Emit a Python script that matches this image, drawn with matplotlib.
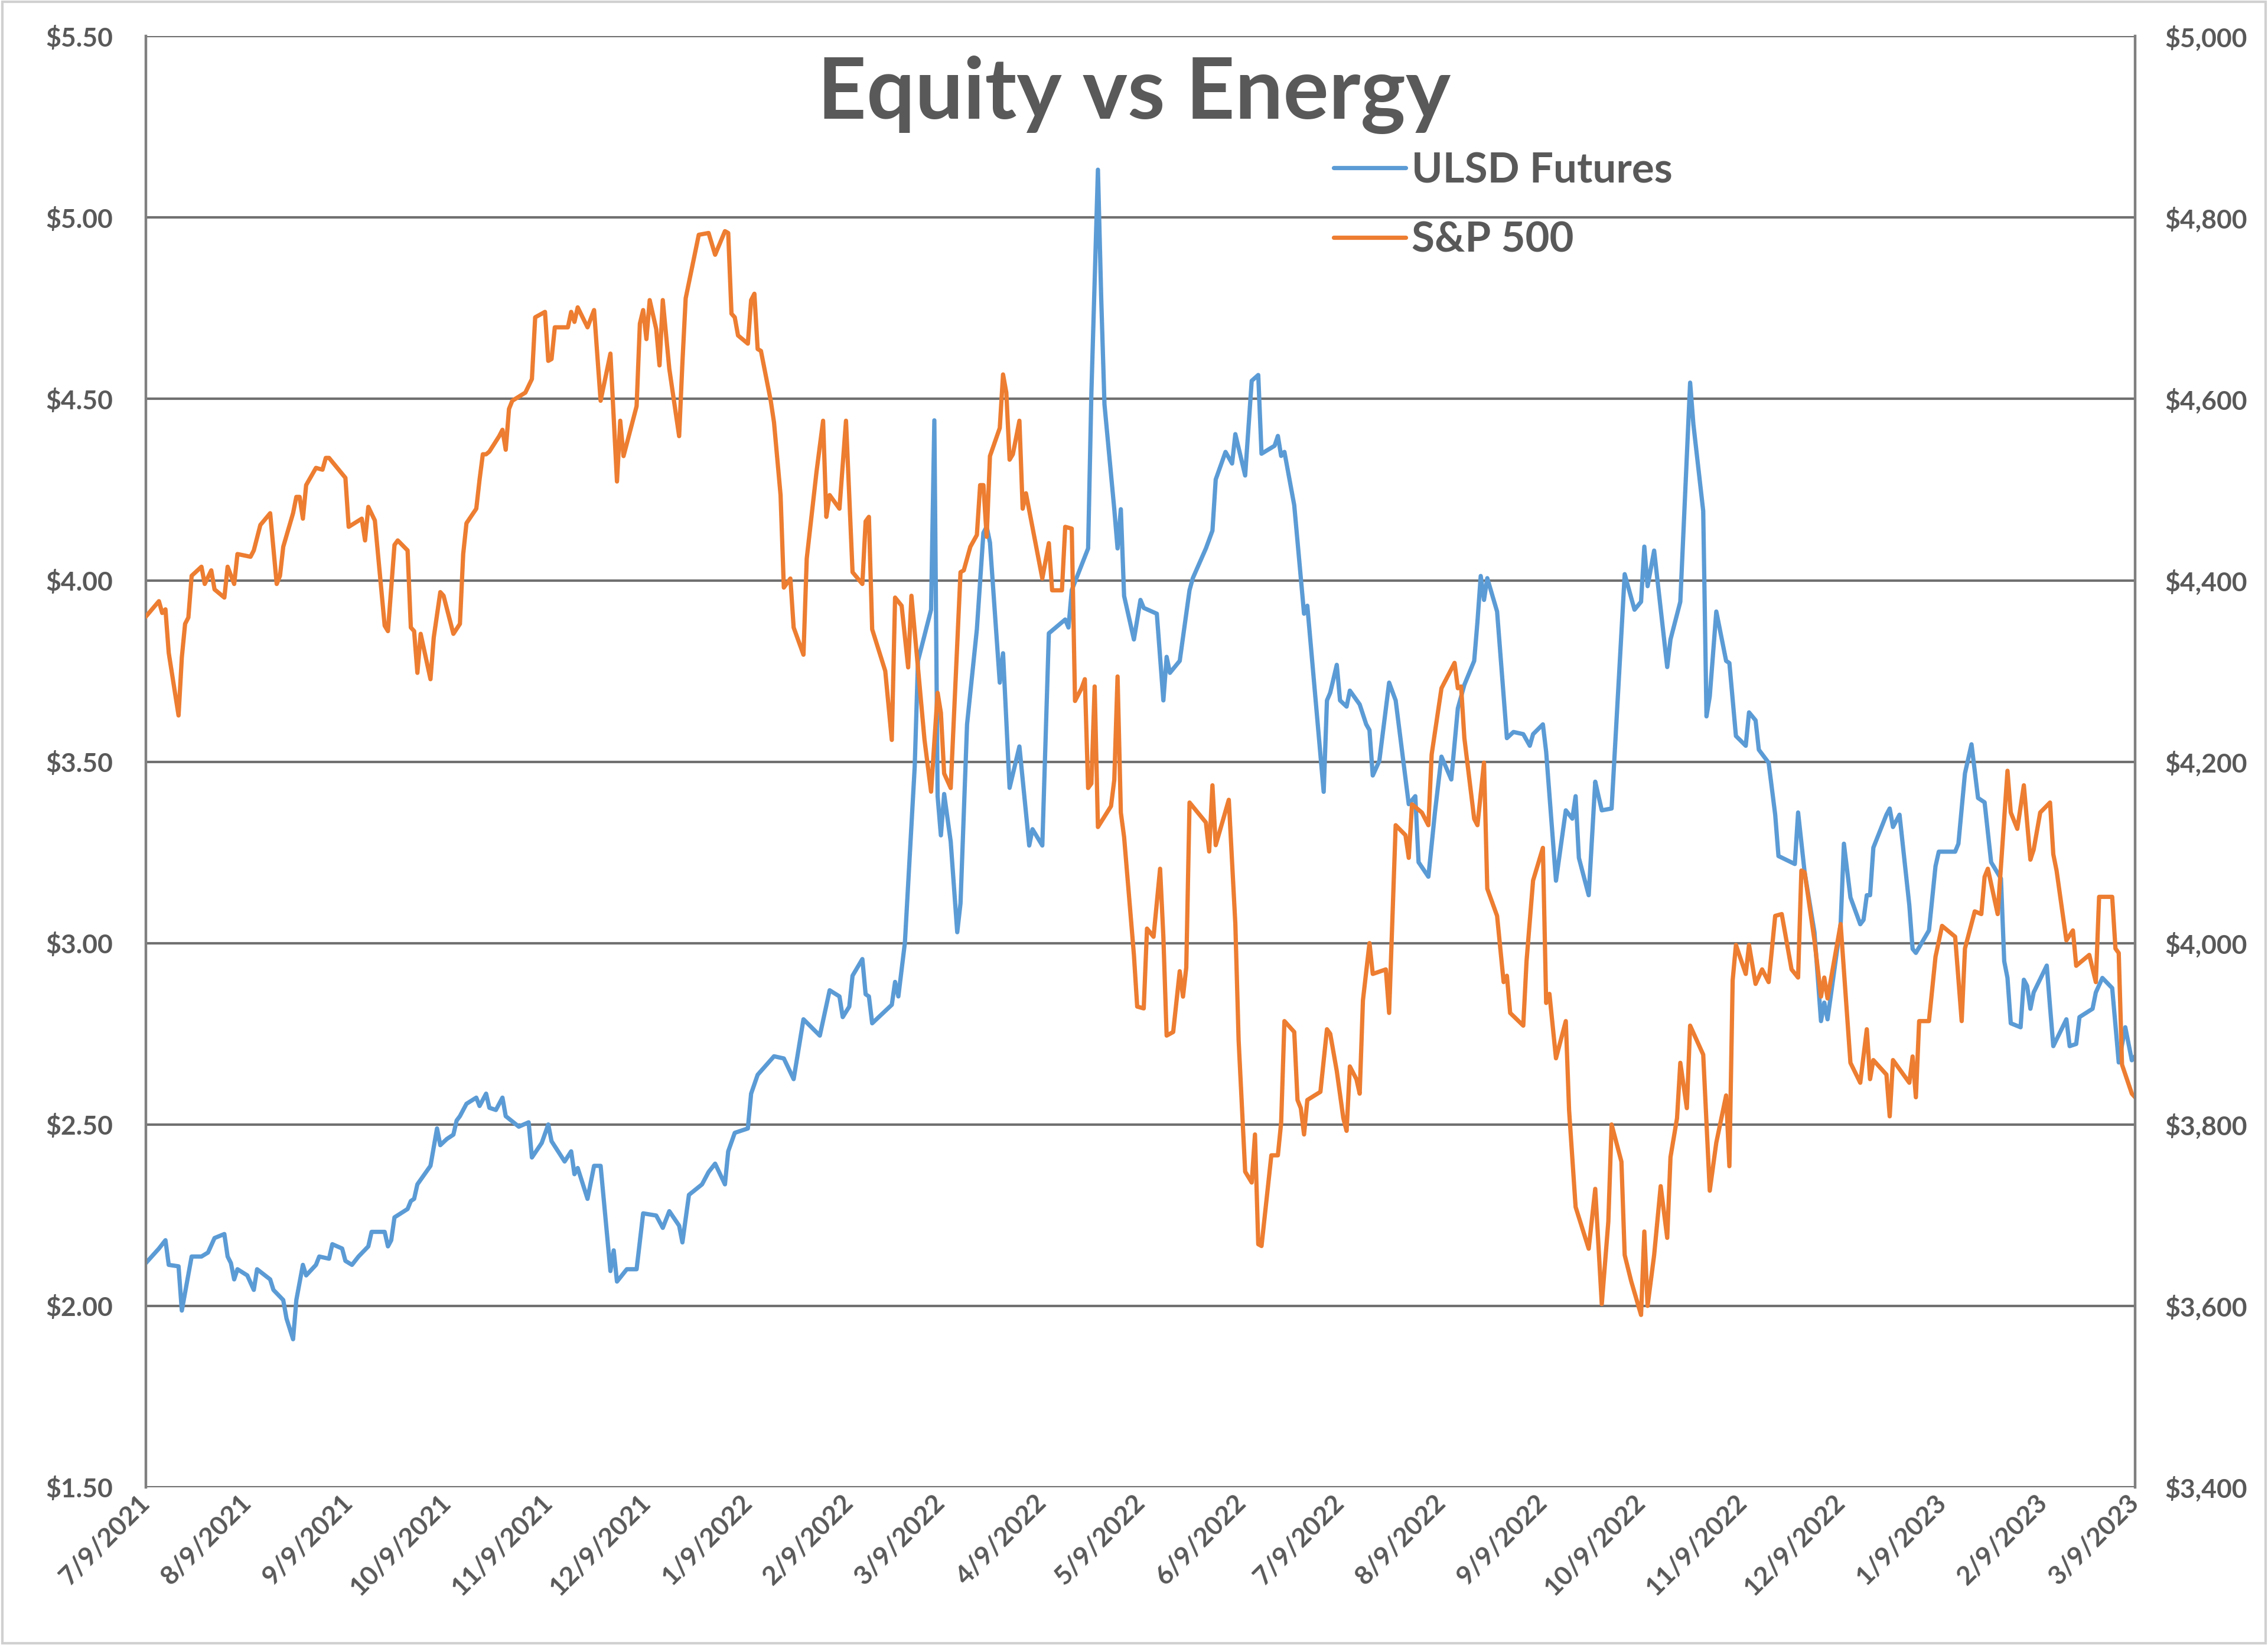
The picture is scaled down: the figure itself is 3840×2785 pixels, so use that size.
import matplotlib
matplotlib.use('Agg')
import matplotlib.pyplot as plt
import matplotlib.ticker as mticker
from matplotlib.patches import Rectangle
import pandas as pd

plt.rcParams['font.family'] = ['Lato', 'DejaVu Sans']

# S&P 500 (right axis)
sp_dates = [
    '2021-07-09', '2021-07-13', '2021-07-14', '2021-07-15', '2021-07-16', '2021-07-19', '2021-07-20', '2021-07-21',
    '2021-07-22', '2021-07-23', '2021-07-26', '2021-07-27', '2021-07-29', '2021-07-30', '2021-08-02', '2021-08-03',
    '2021-08-05', '2021-08-06', '2021-08-10', '2021-08-11', '2021-08-13', '2021-08-16', '2021-08-18', '2021-08-19',
    '2021-08-20', '2021-08-23', '2021-08-24', '2021-08-25', '2021-08-26', '2021-08-27', '2021-08-30', '2021-09-01',
    '2021-09-02', '2021-09-03', '2021-09-08', '2021-09-09', '2021-09-13', '2021-09-14', '2021-09-15', '2021-09-17',
    '2021-09-20', '2021-09-21', '2021-09-23', '2021-09-24', '2021-09-27', '2021-09-28', '2021-09-29', '2021-09-30',
    '2021-10-01', '2021-10-04', '2021-10-05', '2021-10-07', '2021-10-08', '2021-10-11', '2021-10-13', '2021-10-14',
    '2021-10-15', '2021-10-18', '2021-10-19', '2021-10-20', '2021-10-21', '2021-10-22', '2021-10-25', '2021-10-26',
    '2021-10-27', '2021-10-28', '2021-10-29', '2021-11-02', '2021-11-04', '2021-11-05', '2021-11-08', '2021-11-09',
    '2021-11-10', '2021-11-11', '2021-11-15', '2021-11-16', '2021-11-17', '2021-11-18', '2021-11-21', '2021-11-23',
    '2021-11-25', '2021-11-28', '2021-11-30', '2021-12-01', '2021-12-02', '2021-12-06', '2021-12-07', '2021-12-08',
    '2021-12-09', '2021-12-10', '2021-12-12', '2021-12-13', '2021-12-14', '2021-12-16', '2021-12-19', '2021-12-20',
    '2021-12-21', '2021-12-25', '2021-12-28', '2021-12-30', '2022-01-02', '2022-01-03', '2022-01-04', '2022-01-05',
    '2022-01-06', '2022-01-09', '2022-01-10', '2022-01-11', '2022-01-12', '2022-01-13', '2022-01-16', '2022-01-17',
    '2022-01-19', '2022-01-20', '2022-01-22', '2022-01-23', '2022-01-26', '2022-01-27', '2022-01-30', '2022-02-01',
    '2022-02-02', '2022-02-03', '2022-02-06', '2022-02-08', '2022-02-10', '2022-02-13', '2022-02-14', '2022-02-15',
    '2022-02-16', '2022-02-20', '2022-02-22', '2022-02-23', '2022-02-25', '2022-02-27', '2022-02-28', '2022-03-04',
    '2022-03-06', '2022-03-08', '2022-03-09', '2022-03-10', '2022-03-12', '2022-03-15', '2022-03-16', '2022-03-18',
    '2022-03-20', '2022-03-21', '2022-03-22', '2022-03-23', '2022-03-24', '2022-03-27', '2022-03-28', '2022-03-29',
    '2022-03-30', '2022-03-31', '2022-04-02', '2022-04-03', '2022-04-04', '2022-04-09', '2022-04-11', '2022-04-12',
    '2022-04-15', '2022-04-16', '2022-04-18', '2022-04-19', '2022-04-21', '2022-04-22', '2022-04-23', '2022-04-24',
    '2022-04-25', '2022-04-26', '2022-04-30', '2022-05-01', '2022-05-02', '2022-05-03', '2022-05-04', '2022-05-07',
    '2022-05-08', '2022-05-10', '2022-05-11', '2022-05-13', '2022-05-15', '2022-05-16', '2022-05-17', '2022-05-19',
    '2022-05-21', '2022-05-22', '2022-05-23', '2022-05-24', '2022-05-29', '2022-05-30', '2022-05-31', '2022-06-01',
    '2022-06-05', '2022-06-07', '2022-06-08', '2022-06-10', '2022-06-12', '2022-06-13', '2022-06-14', '2022-06-15',
    '2022-06-18', '2022-06-20', '2022-06-21', '2022-06-22', '2022-06-25', '2022-06-26', '2022-06-27', '2022-06-28',
    '2022-06-29', '2022-07-03', '2022-07-05', '2022-07-06', '2022-07-08', '2022-07-10', '2022-07-11', '2022-07-12',
    '2022-07-14', '2022-07-15', '2022-07-16', '2022-07-18', '2022-07-19', '2022-07-23', '2022-07-24', '2022-07-25',
    '2022-07-26', '2022-07-29', '2022-07-30', '2022-07-31', '2022-08-03', '2022-08-05', '2022-08-06', '2022-08-09',
    '2022-08-13', '2022-08-14', '2022-08-15', '2022-08-16', '2022-08-19', '2022-08-20', '2022-08-22', '2022-08-23',
    '2022-08-26', '2022-08-28', '2022-08-29', '2022-08-30', '2022-09-03', '2022-09-04', '2022-09-06', '2022-09-09',
    '2022-09-10', '2022-09-11', '2022-09-13', '2022-09-16', '2022-09-17', '2022-09-19', '2022-09-23', '2022-09-25',
    '2022-09-27', '2022-09-29', '2022-09-30', '2022-10-03', '2022-10-04', '2022-10-06', '2022-10-09', '2022-10-10',
    '2022-10-11', '2022-10-13', '2022-10-15', '2022-10-17', '2022-10-18', '2022-10-20', '2022-10-21', '2022-10-23',
    '2022-10-24', '2022-10-28', '2022-10-30', '2022-11-01', '2022-11-04', '2022-11-05', '2022-11-06', '2022-11-07',
    '2022-11-10', '2022-11-11', '2022-11-13', '2022-11-15', '2022-11-17', '2022-11-19', '2022-11-21', '2022-11-24',
    '2022-11-26', '2022-11-27', '2022-11-28', '2022-12-01', '2022-12-03', '2022-12-04', '2022-12-05', '2022-12-09',
    '2022-12-12', '2022-12-15', '2022-12-17', '2022-12-18', '2022-12-19', '2022-12-23', '2022-12-24', '2022-12-25',
    '2022-12-30', '2022-12-31', '2023-01-01', '2023-01-02', '2023-01-05', '2023-01-07', '2023-01-09', '2023-01-13',
    '2023-01-15', '2023-01-16', '2023-01-19', '2023-01-21', '2023-01-22', '2023-01-23', '2023-01-26', '2023-01-29',
    '2023-01-30', '2023-02-01', '2023-02-03', '2023-02-05', '2023-02-06', '2023-02-08', '2023-02-11', '2023-02-12',
    '2023-02-13', '2023-02-16', '2023-02-18', '2023-02-19', '2023-02-23', '2023-02-25', '2023-02-26', '2023-03-02',
    '2023-03-03', '2023-03-04', '2023-03-05', '2023-03-08', '2023-03-09',
]
sp_values = [
    4360, 4377, 4364, 4368, 4320, 4251, 4315, 4352, 4359, 4405, 4415, 4396, 4411, 4390, 4381, 4415,
    4396, 4429, 4426, 4433, 4461, 4474, 4396, 4405, 4437, 4474, 4492, 4492, 4468, 4505, 4524, 4522,
    4535, 4535, 4513, 4459, 4468, 4444, 4481, 4466, 4350, 4344, 4439, 4444, 4433, 4348, 4344, 4298,
    4341, 4291, 4337, 4387, 4383, 4341, 4352, 4429, 4463, 4479, 4511, 4539, 4539, 4542, 4559, 4566,
    4544, 4589, 4598, 4607, 4622, 4690, 4696, 4642, 4644, 4679, 4679, 4696, 4685, 4701, 4679, 4698,
    4598, 4650, 4509, 4576, 4537, 4592, 4683, 4698, 4666, 4709, 4677, 4637, 4709, 4633, 4559, 4640,
    4711, 4781, 4783, 4759, 4785, 4783, 4694, 4690, 4670, 4661, 4709, 4716, 4655, 4653, 4598, 4574,
    4494, 4392, 4402, 4348, 4318, 4424, 4520, 4576, 4470, 4494, 4479, 4576, 4409, 4396, 4465, 4470,
    4346, 4300, 4224, 4381, 4372, 4304, 4383, 4224, 4167, 4276, 4254, 4187, 4171, 4409, 4411, 4437,
    4450, 4505, 4505, 4448, 4537, 4568, 4627, 4607, 4533, 4539, 4576, 4479, 4496, 4402, 4441, 4389,
    4389, 4459, 4457, 4267, 4281, 4291, 4171, 4176, 4283, 4128, 4151, 4180, 4294, 4144, 4117, 3987,
    3930, 3928, 4016, 4007, 4082, 4007, 3898, 3902, 3969, 3941, 3973, 4155, 4133, 4101, 4174, 4108,
    4158, 4021, 3893, 3748, 3736, 3789, 3668, 3666, 3766, 3766, 3802, 3914, 3902, 3827, 3818, 3789,
    3827, 3836, 3905, 3900, 3859, 3807, 3793, 3864, 3850, 3834, 3937, 4000, 3966, 3971, 3923, 4026,
    4130, 4119, 4094, 4153, 4144, 4130, 4208, 4281, 4309, 4281, 4283, 4226, 4137, 4130, 4199, 4060,
    4030, 3957, 3964, 3923, 3909, 3980, 4069, 4105, 3934, 3944, 3873, 3914, 3816, 3709, 3663, 3729,
    3602, 3693, 3800, 3759, 3656, 3627, 3590, 3682, 3600, 3656, 3732, 3675, 3764, 3807, 3868, 3818,
    3909, 3877, 3727, 3780, 3832, 3754, 3959, 3998, 3966, 3998, 3955, 3971, 3957, 4030, 4032, 3971,
    3962, 4080, 4078, 4003, 3941, 3962, 3939, 4021, 3868, 3846, 3905, 3850, 3871, 3855, 3809, 3871,
    3846, 3875, 3830, 3914, 3914, 3985, 4019, 4007, 3914, 3994, 4035, 4032, 4073, 4082, 4032, 4190,
    4144, 4126, 4174, 4092, 4103, 4144, 4155, 4098, 4080, 4003, 4014, 3975, 3987, 3957, 4051, 4051,
    3994, 3989, 3866, 3834, 3830,
]

# ULSD futures, $/gal (left axis)
ulsd_dates = [
    '2021-07-09', '2021-07-13', '2021-07-15', '2021-07-16', '2021-07-19', '2021-07-20', '2021-07-23', '2021-07-26',
    '2021-07-28', '2021-07-30', '2021-08-02', '2021-08-03', '2021-08-04', '2021-08-05', '2021-08-06', '2021-08-09',
    '2021-08-11', '2021-08-12', '2021-08-16', '2021-08-17', '2021-08-20', '2021-08-21', '2021-08-23', '2021-08-24',
    '2021-08-26', '2021-08-27', '2021-08-30', '2021-08-31', '2021-09-03', '2021-09-04', '2021-09-07', '2021-09-08',
    '2021-09-10', '2021-09-12', '2021-09-15', '2021-09-16', '2021-09-20', '2021-09-21', '2021-09-22', '2021-09-23',
    '2021-09-27', '2021-09-28', '2021-09-29', '2021-09-30', '2021-10-04', '2021-10-06', '2021-10-07', '2021-10-09',
    '2021-10-11', '2021-10-12', '2021-10-13', '2021-10-15', '2021-10-18', '2021-10-19', '2021-10-21', '2021-10-22',
    '2021-10-24', '2021-10-26', '2021-10-27', '2021-10-31', '2021-11-03', '2021-11-04', '2021-11-07', '2021-11-09',
    '2021-11-10', '2021-11-14', '2021-11-16', '2021-11-17', '2021-11-18', '2021-11-21', '2021-11-23', '2021-11-25',
    '2021-11-28', '2021-11-29', '2021-11-30', '2021-12-03', '2021-12-06', '2021-12-08', '2021-12-12', '2021-12-14',
    '2021-12-16', '2021-12-19', '2021-12-20', '2021-12-22', '2021-12-26', '2021-12-28', '2021-12-30', '2022-01-02',
    '2022-01-03', '2022-01-05', '2022-01-09', '2022-01-10', '2022-01-12', '2022-01-17', '2022-01-20', '2022-01-23',
    '2022-01-26', '2022-01-31', '2022-02-03', '2022-02-06', '2022-02-07', '2022-02-09', '2022-02-10', '2022-02-13',
    '2022-02-14', '2022-02-15', '2022-02-16', '2022-02-22', '2022-02-23', '2022-02-24', '2022-02-26', '2022-03-01',
    '2022-03-02', '2022-03-06', '2022-03-07', '2022-03-08', '2022-03-09', '2022-03-10', '2022-03-12', '2022-03-14',
    '2022-03-15', '2022-03-17', '2022-03-20', '2022-03-22', '2022-03-23', '2022-03-24', '2022-03-27', '2022-03-28',
    '2022-03-30', '2022-04-02', '2022-04-05', '2022-04-06', '2022-04-09', '2022-04-11', '2022-04-16', '2022-04-17',
    '2022-04-18', '2022-04-23', '2022-04-24', '2022-04-26', '2022-04-27', '2022-04-28', '2022-05-01', '2022-05-02',
    '2022-05-03', '2022-05-04', '2022-05-07', '2022-05-09', '2022-05-10', '2022-05-14', '2022-05-16', '2022-05-17',
    '2022-05-18', '2022-05-21', '2022-05-24', '2022-05-25', '2022-05-29', '2022-05-31', '2022-06-01', '2022-06-04',
    '2022-06-06', '2022-06-07', '2022-06-10', '2022-06-12', '2022-06-14', '2022-06-15', '2022-06-19', '2022-06-20',
    '2022-06-21', '2022-06-22', '2022-06-25', '2022-06-28', '2022-06-29', '2022-07-04', '2022-07-05', '2022-07-06',
    '2022-07-08', '2022-07-09', '2022-07-11', '2022-07-12', '2022-07-15', '2022-07-17', '2022-07-18', '2022-07-19',
    '2022-07-21', '2022-07-24', '2022-07-26', '2022-07-30', '2022-08-01', '2022-08-02', '2022-08-05', '2022-08-07',
    '2022-08-09', '2022-08-12', '2022-08-14', '2022-08-16', '2022-08-19', '2022-08-20', '2022-08-21', '2022-08-22',
    '2022-08-23', '2022-08-26', '2022-08-29', '2022-08-31', '2022-09-03', '2022-09-05', '2022-09-06', '2022-09-09',
    '2022-09-10', '2022-09-13', '2022-09-16', '2022-09-18', '2022-09-19', '2022-09-20', '2022-09-23', '2022-09-25',
    '2022-09-26', '2022-09-27', '2022-09-30', '2022-10-04', '2022-10-07', '2022-10-09', '2022-10-10', '2022-10-11',
    '2022-10-13', '2022-10-17', '2022-10-18', '2022-10-21', '2022-10-24', '2022-10-25', '2022-10-28', '2022-10-29',
    '2022-10-30', '2022-11-01', '2022-11-04', '2022-11-05', '2022-11-07', '2022-11-10', '2022-11-11', '2022-11-13',
    '2022-11-14', '2022-11-17', '2022-11-19', '2022-11-20', '2022-11-25', '2022-11-26', '2022-11-28', '2022-12-01',
    '2022-12-03', '2022-12-04', '2022-12-05', '2022-12-09', '2022-12-10', '2022-12-12', '2022-12-15', '2022-12-16',
    '2022-12-17', '2022-12-18', '2022-12-19', '2022-12-23', '2022-12-24', '2022-12-25', '2022-12-27', '2022-12-30',
    '2022-12-31', '2023-01-01', '2023-01-05', '2023-01-07', '2023-01-08', '2023-01-13', '2023-01-14', '2023-01-16',
    '2023-01-18', '2023-01-20', '2023-01-22', '2023-01-24', '2023-01-27', '2023-01-28', '2023-01-29', '2023-01-30',
    '2023-02-02', '2023-02-03', '2023-02-04', '2023-02-05', '2023-02-06', '2023-02-10', '2023-02-11', '2023-02-12',
    '2023-02-16', '2023-02-17', '2023-02-19', '2023-02-20', '2023-02-24', '2023-02-25', '2023-02-27', '2023-03-02',
    '2023-03-04', '2023-03-06', '2023-03-08', '2023-03-09',
]
ulsd_values = [
    2.118, 2.158, 2.181, 2.113, 2.109, 1.987, 2.136, 2.136, 2.147, 2.187, 2.198, 2.136, 2.118, 2.073, 2.101, 2.084,
    2.044, 2.101, 2.073, 2.044, 2.016, 1.965, 1.908, 2.016, 2.113, 2.084, 2.113, 2.136, 2.130, 2.170, 2.158, 2.124,
    2.113, 2.136, 2.164, 2.204, 2.204, 2.164, 2.181, 2.244, 2.267, 2.289, 2.295, 2.335, 2.386, 2.489, 2.443, 2.460,
    2.472, 2.511, 2.523, 2.557, 2.574, 2.551, 2.585, 2.546, 2.540, 2.574, 2.523, 2.494, 2.506, 2.409, 2.449, 2.500,
    2.454, 2.398, 2.426, 2.363, 2.380, 2.295, 2.386, 2.386, 2.096, 2.153, 2.067, 2.101, 2.101, 2.255, 2.249, 2.215,
    2.261, 2.221, 2.175, 2.306, 2.335, 2.369, 2.392, 2.335, 2.426, 2.477, 2.489, 2.585, 2.637, 2.688, 2.682, 2.625,
    2.790, 2.745, 2.870, 2.853, 2.796, 2.825, 2.910, 2.956, 2.859, 2.853, 2.779, 2.830, 2.893, 2.853, 3.001, 3.486,
    3.778, 3.919, 4.441, 3.405, 3.297, 3.411, 3.280, 3.030, 3.110, 3.603, 3.865, 4.131, 4.148, 4.104, 3.718, 3.799,
    3.428, 3.542, 3.269, 3.314, 3.269, 3.854, 3.892, 3.870, 3.973, 4.088, 4.517, 5.132, 4.779, 4.485, 4.196, 4.088,
    4.196, 3.957, 3.837, 3.946, 3.924, 3.908, 3.669, 3.789, 3.745, 3.778, 3.973, 4.006, 4.088, 4.137, 4.278, 4.354,
    4.322, 4.403, 4.289, 4.550, 4.566, 4.349, 4.371, 4.398, 4.343, 4.354, 4.207, 3.908, 3.930, 3.417, 3.669, 3.690,
    3.767, 3.669, 3.652, 3.696, 3.658, 3.603, 3.587, 3.462, 3.502, 3.718, 3.669, 3.383, 3.405, 3.223, 3.183, 3.360,
    3.514, 3.451, 3.647, 3.712, 3.778, 3.886, 4.012, 3.946, 4.006, 3.914, 3.565, 3.582, 3.576, 3.544, 3.576, 3.603,
    3.527, 3.172, 3.366, 3.343, 3.405, 3.235, 3.132, 3.445, 3.405, 3.366, 3.371, 4.017, 3.919, 3.941, 4.093, 3.984,
    4.082, 3.761, 3.837, 3.941, 4.545, 4.430, 4.191, 3.625, 3.680, 3.914, 3.778, 3.772, 3.571, 3.544, 3.636, 3.614,
    3.533, 3.497, 3.354, 3.240, 3.218, 3.360, 3.195, 3.030, 2.785, 2.836, 2.790, 3.052, 3.274, 3.126, 3.052, 3.064,
    3.132, 3.132, 3.263, 3.354, 3.371, 3.320, 3.354, 3.104, 2.984, 2.973, 3.035, 3.212, 3.252, 3.252, 3.274, 3.468,
    3.548, 3.400, 3.388, 3.223, 3.178, 2.950, 2.904, 2.779, 2.768, 2.899, 2.882, 2.819, 2.864, 2.938, 2.825, 2.716,
    2.790, 2.716, 2.722, 2.796, 2.819, 2.864, 2.904, 2.876, 2.671, 2.768, 2.677, 2.688,
]

tick_dates = ['2021-07-09', '2021-08-09', '2021-09-09', '2021-10-09', '2021-11-09', '2021-12-09', '2022-01-09',
              '2022-02-09', '2022-03-09', '2022-04-09', '2022-05-09', '2022-06-09', '2022-07-09', '2022-08-09',
              '2022-09-09', '2022-10-09', '2022-11-09', '2022-12-09', '2023-01-09', '2023-02-09', '2023-03-09']
left_ticks = [1.5, 2.0, 2.5, 3.0, 3.5, 4.0, 4.5, 5.0, 5.5]
right_ticks = [3400, 3600, 3800, 4000, 4200, 4400, 4600, 4800, 5000]

BLUE = '#5B9BD5'
ORANGE = '#ED7D31'
TXT = '#595959'
GRID = '#707070'

sp_x = pd.to_datetime(sp_dates)
ulsd_x = pd.to_datetime(ulsd_dates)
ticks = pd.to_datetime(tick_dates)

fig = plt.figure(figsize=(19.2, 13.925), dpi=200)
ax = fig.add_axes([0.0643, 0.0959, 0.8771, 0.8821])
ax2 = ax.twinx()

l1, = ax.plot(ulsd_x, ulsd_values, color=BLUE, lw=2.6, label='ULSD Futures',
              solid_joinstyle='round', solid_capstyle='round')
l2, = ax2.plot(sp_x, sp_values, color=ORANGE, lw=2.6, label='S&P 500',
               solid_joinstyle='round', solid_capstyle='round')

ax.set_xlim(ticks[0], ticks[-1])
ax.set_ylim(1.5, 5.5)
ax2.set_ylim(3400, 5000)

ax.set_yticks(left_ticks)
ax2.set_yticks(right_ticks)
ax.yaxis.set_major_formatter(mticker.FuncFormatter(lambda v, p: '${:.2f}'.format(v)))
ax2.yaxis.set_major_formatter(mticker.FuncFormatter(lambda v, p: '${:,.0f}'.format(v)))
ax.set_xticks(ticks)
ax.set_xticklabels([f'{t.month}/{t.day}/{t.year}' for t in ticks])

ax.grid(axis='y', color=GRID, lw=1.5)
ax.set_axisbelow(True)

for a in (ax, ax2):
    for s in a.spines.values():
        s.set_visible(False)
ax.spines['left'].set_visible(True)
ax.spines['left'].set_color('#7f7f7f')
ax.spines['left'].set_linewidth(1.6)
ax2.spines['right'].set_visible(True)
ax2.spines['right'].set_color('#7f7f7f')
ax2.spines['right'].set_linewidth(1.6)

ax.tick_params(axis='y', length=0, pad=20, labelsize=16, labelcolor=TXT)
ax2.tick_params(axis='y', length=0, pad=18, labelsize=16, labelcolor=TXT)
ax.tick_params(axis='x', length=0, pad=7, labelsize=16, labelcolor=TXT)
for lab in ax.get_xticklabels():
    lab.set_rotation(45)
    lab.set_ha('right')
    lab.set_va('center')
    lab.set_rotation_mode('anchor')
for lab in ax.get_yticklabels() + ax2.get_yticklabels() + ax.get_xticklabels():
    lab.set_fontweight('bold')

fig.text(0.5, 0.9279, 'Equity vs Energy', ha='center', va='baseline',
         fontsize=52, fontweight='bold', color=TXT)

fig.legend([l1, l2], ['ULSD Futures', 'S&P 500'], loc='upper left', bbox_to_anchor=(0.588, 0.908),
           frameon=False, borderpad=0, borderaxespad=0, handlelength=1.72, handletextpad=0.15,
           labelspacing=0.74, prop={'size': 25.5, 'weight': 'bold'}, labelcolor=TXT)

fig.patches.append(Rectangle((0.001, 0.001), 0.998, 0.998, transform=fig.transFigure,
                             fill=False, edgecolor='#d0d0d0', lw=1.5))

fig.savefig('out.png', dpi=200)
